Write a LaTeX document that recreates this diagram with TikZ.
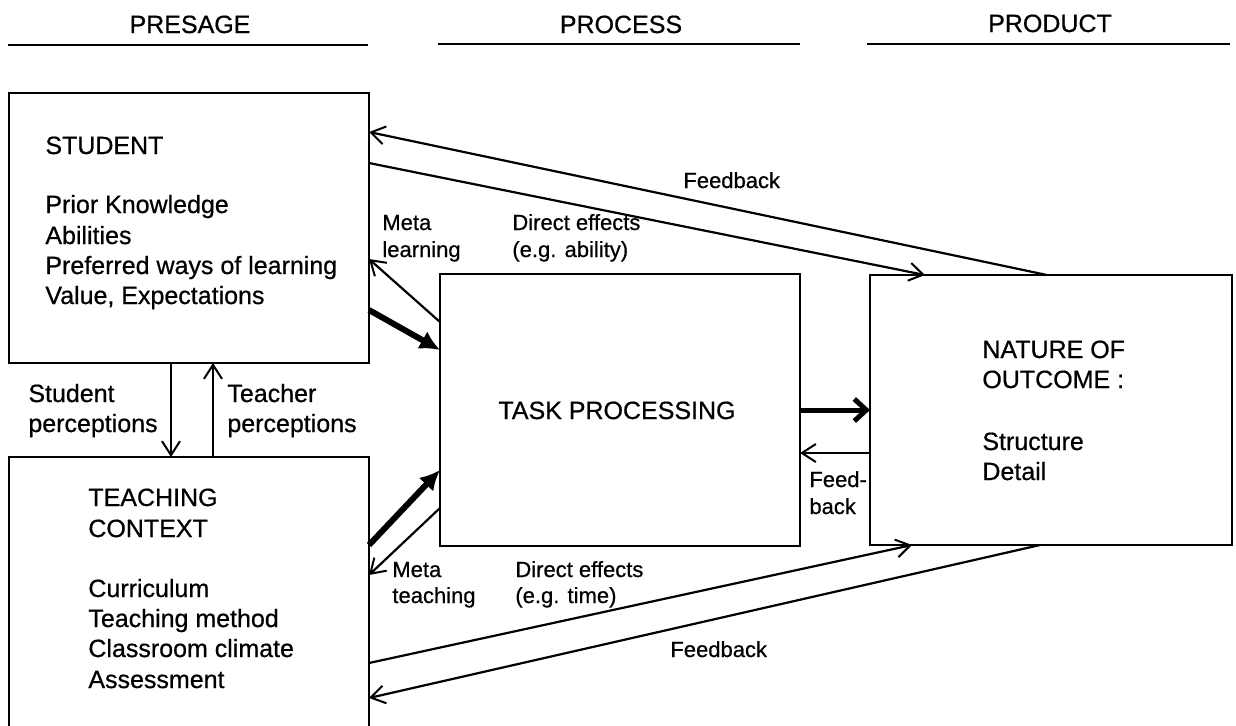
\documentclass[tikz,border=0pt]{standalone}
\usepackage{fontspec}
\setmainfont{Liberation Sans}[FakeBold=0.6]
\usetikzlibrary{arrows.meta,calc}
\begin{document}
\begin{tikzpicture}[x=0.5pt,y=-0.5pt,
  box/.style={draw, line width=1.4pt, inner sep=0pt, outer sep=0pt, anchor=north west},
  hd/.style={font=\fontsize{12.5}{15}\selectfont, inner sep=0pt, anchor=base},
  txt/.style={font=\fontsize{12.5}{15}\selectfont, inner sep=0pt, anchor=base west},
  lbl/.style={font=\fontsize{11}{13}\selectfont, inner sep=0pt, anchor=base west},
  rule/.style={line width=1.4pt},
  conn/.style={line width=1.1pt, -{Straight Barb[length=7pt,width=9pt,line width=1pt]}},
  heavy/.style={line width=3pt, -{Latex[length=10pt,width=10pt]}},
  heavybarb/.style={line width=2.5pt, -{Straight Barb[length=6pt,width=11pt,line width=2.5pt]}},
]
\clip (0,0) rectangle (1236,725);
\fill[white] (0,0) rectangle (1236,725);

% headers
\node[hd] (hpre) at (190,33) {PRESAGE};
\node[hd] (hpro) at (621,33) {PROCESS};
\node[hd] (hprd) at (1050,32) {PRODUCT};
\draw[rule] (8,45) -- (368,45);
\draw[rule] (438,44) -- (800,44);
\draw[rule] (867,44) -- (1230,44);

% boxes
\node[box, minimum width=180pt, minimum height=135pt] (stu) at (9,93) {};
\node[box, minimum width=180pt, minimum height=145pt] (tea) at (9,457) {};
\node[box, minimum width=180pt, minimum height=136pt] (tp) at (440,274) {};
\node[box, minimum width=181pt, minimum height=135pt] (out) at (870,275) {};

% student text
\node[txt] (s1) at (45,154) {STUDENT};
\node[txt] (s2) at (45,213) {Prior Knowledge};
\node[txt] (s3) at (45,244) {Abilities};
\node[txt] (s4) at (45,274) {Preferred ways of learning};
\node[txt] (s5) at (45,304) {Value, Expectations};

% teaching text
\node[txt] (t1) at (88,506) {TEACHING};
\node[txt] (t2) at (88,537) {CONTEXT};
\node[txt] (t3) at (88,597) {Curriculum};
\node[txt] (t4) at (88,627) {Teaching method};
\node[txt] (t5) at (88,657) {Classroom climate};
\node[txt] (t6) at (88,688) {Assessment};

% task processing
\node[hd] (tpt) at (617,419) {TASK PROCESSING};

% outcome text
\node[txt] (o1) at (982,358) {NATURE OF};
\node[txt] (o2) at (982,388) {OUTCOME :};
\node[txt] (o3) at (982,450) {Structure};
\node[txt] (o4) at (982,480) {Detail};

% perceptions
\draw[conn] (stu.south -| 171,0) -- (tea.north -| 171,0);
\draw[conn] (tea.north -| 213,0) -- (stu.south -| 213,0);
\node[txt] (sp1) at (28,402) {Student};
\node[txt] (sp2) at (28,432) {perceptions};
\node[txt] (tp1) at (227,402) {Teacher};
\node[txt] (tp2) at (227,432) {perceptions};

% upper connectors
\draw[conn] (out.north -| 1047,0) -- (stu.east |- 0,132);
\draw[conn] (stu.east |- 0,163) -- (out.north -| 925,0);
\draw[conn] (tp.west |- 0,322) -- (stu.east |- 0,259);
\draw[heavy] (stu.east |- 0,310) -- (tp.west |- 0,350);
\node[lbl] (fb1) at (683,188) {Feedback};
\node[lbl] (ml1) at (382,230) {Meta};
\node[lbl] (ml2) at (382,257) {learning};
\node[lbl] (de1) at (512,230) {Direct effects};
\node[lbl] (de2) at (512,257) {(e.g. ability)};

% lower connectors
\draw[heavy] (tea.east |- 0,545) -- (tp.west |- 0,470);
\draw[conn] (tp.west |- 0,508) -- (tea.east |- 0,575);
\draw[conn] (tea.east |- 0,663) -- (out.south -| 912,0);
\draw[conn] (out.south -| 1040,0) -- (tea.east |- 0,698);
\node[lbl] (mt1) at (392,577) {Meta};
\node[lbl] (mt2) at (392,603) {teaching};
\node[lbl] (dt1) at (515,577) {Direct effects};
\node[lbl] (dt2) at (515,603) {(e.g. time)};
\node[lbl] (fb2) at (670,657) {Feedback};

% task processing <-> outcome
\draw[heavybarb] (tp.east |- 0,410) -- (out.west |- 0,410);
\draw[conn] (out.west |- 0,453) -- (tp.east |- 0,453);
\node[lbl] (fb3) at (809,487) {Feed-};
\node[lbl] (fb4) at (809,514) {back};
\end{tikzpicture}
\end{document}
